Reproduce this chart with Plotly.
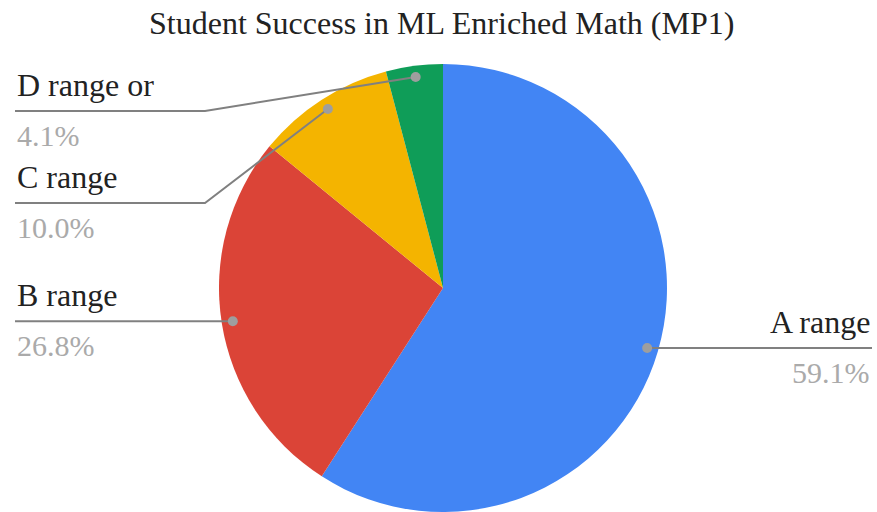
import math
import plotly.graph_objects as go

categories = ["A range", "B range", "C range", "D range or"]
values = [59.1, 26.8, 10.0, 4.1]
colors = ["#4285F4", "#DB4437", "#F4B400", "#0F9D58"]
title_text = "Student Success in ML Enriched Math (MP1)"

W, H = 877, 512
FONT = "Liberation Serif"

# pie geometry in pixels
dom_x = (219, 667)
dom_y_top, dom_y_bot = 64, 512
cx = (dom_x[0] + dom_x[1]) / 2
cy = (dom_y_top + dom_y_bot) / 2
R = min(dom_x[1] - dom_x[0], dom_y_bot - dom_y_top) / 2


def px(x):
    return x / W


def py(y):
    return 1 - y / H


fig = go.Figure()
fig.add_trace(go.Pie(
    labels=categories, values=values, sort=False, direction="clockwise",
    rotation=0, marker=dict(colors=colors, line=dict(color="white", width=0)),
    textinfo="none", hoverinfo="label+percent", showlegend=False,
    domain=dict(x=[px(dom_x[0]), px(dom_x[1])], y=[py(dom_y_bot), py(dom_y_top)]),
))

shapes = []
annotations = []
total = sum(values)
cum = 0.0
dots = []
for cat, v in zip(categories, values):
    mid = (cum + v / 2) / total * 2 * math.pi
    cum += v
    dx = (R * 0.95) * math.sin(mid)
    dy = -(R * 0.95) * math.cos(mid)
    dots.append((cat, v, cx + dx, cy + dy, dx >= 0))

LINE_COLOR = "#808080"
left = sorted([d for d in dots if not d[4]], key=lambda d: d[3])
right = [d for d in dots if d[4]]

min_y = 111
spacing = 92
elbow_x = 205
left_x = 15
right_x = 872


def add_label(cat, v, line_y, align_left):
    xa = left_x if align_left else right_x
    anchor = "left" if align_left else "right"
    annotations.append(dict(x=px(xa), y=py(line_y - 26), xref="paper", yref="paper",
                            text=cat, showarrow=False, xanchor=anchor, yanchor="middle",
                            font=dict(family=FONT, size=32, color="#222222")))
    annotations.append(dict(x=px(xa), y=py(line_y + 24), xref="paper", yref="paper",
                            text=f"{v:.1f}%", showarrow=False, xanchor=anchor, yanchor="middle",
                            font=dict(family=FONT, size=30, color="#aaaaaa")))


prev = None
for cat, v, x, y, _ in left:
    line_y = max(y, min_y if prev is None else prev + spacing)
    prev = line_y
    if abs(line_y - y) < 2:
        path = f"M {px(left_x)} {py(y)} L {px(x)} {py(y)}"
    else:
        path = f"M {px(left_x)} {py(line_y)} L {px(elbow_x)} {py(line_y)} L {px(x)} {py(y)}"
    shapes.append(dict(type="path", path=path, xref="paper", yref="paper",
                       line=dict(color=LINE_COLOR, width=2)))
    add_label(cat, v, line_y, True)

for cat, v, x, y, _ in right:
    path = f"M {px(x)} {py(y)} L {px(right_x)} {py(y)}"
    shapes.append(dict(type="path", path=path, xref="paper", yref="paper",
                       line=dict(color=LINE_COLOR, width=2)))
    add_label(cat, v, y, False)

for cat, v, x, y, _ in dots:
    r = 5
    shapes.append(dict(type="circle", xref="paper", yref="paper",
                       x0=px(x - r), x1=px(x + r), y0=py(y + r), y1=py(y - r),
                       fillcolor="#9e9e9e", line=dict(width=0)))

annotations.append(dict(x=px(441.5), y=py(23), xref="paper", yref="paper",
                        text=title_text, showarrow=False, xanchor="center", yanchor="middle",
                        font=dict(family=FONT, size=32, color="#222222")))

fig.update_layout(
    width=W, height=H, margin=dict(l=0, r=0, t=0, b=0),
    paper_bgcolor="white", plot_bgcolor="white",
    font=dict(family=FONT),
    shapes=shapes, annotations=annotations,
)
fig.write_html("out.html")
